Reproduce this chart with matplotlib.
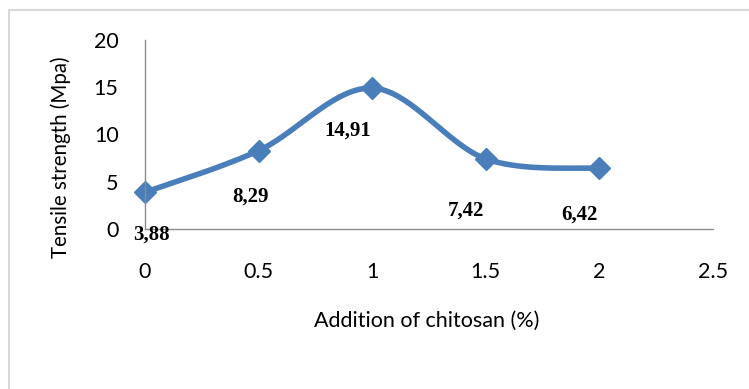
import numpy as np
import matplotlib
matplotlib.use("Agg")
import matplotlib.pyplot as plt
from matplotlib.patches import Rectangle

# data
chitosan = [0, 0.5, 1, 1.5, 2]
strength = [3.88, 8.29, 14.91, 7.42, 6.42]
value_labels = ["3,88", "8,29", "14,91", "7,42", "6,42"]
x_ticks = [0, 0.5, 1, 1.5, 2, 2.5]
x_tick_labels = ["0", "0.5", "1", "1.5", "2", "2.5"]
y_ticks = [0, 5, 10, 15, 20]

# label offsets in pixels (style)
label_offsets = [(6, -42), (-8, -46), (-24, -42), (-20, -52), (-20, -46)]


def smooth(xs, ys, n=40):
    pts = np.column_stack([xs, ys]).astype(float)
    out = []
    for i in range(len(pts) - 1):
        p0 = pts[i - 1] if i > 0 else pts[i]
        p1 = pts[i]
        p2 = pts[i + 1]
        p3 = pts[i + 2] if i + 2 < len(pts) else pts[i + 1]
        b1 = p1 + (p2 - p0) / 6.0
        b2 = p2 - (p3 - p1) / 6.0
        t = np.linspace(0, 1, n)[:, None]
        seg = ((1 - t) ** 3) * p1 + 3 * ((1 - t) ** 2) * t * b1 + 3 * (1 - t) * t ** 2 * b2 + t ** 3 * p2
        out.append(seg if i == 0 else seg[1:])
    seg = np.vstack(out)
    return seg[:, 0], seg[:, 1]


W, H = 749, 389
fig = plt.figure(figsize=(W / 100, H / 100), dpi=100)
fig.patch.set_facecolor("white")

# outer frame
fig.patches.append(Rectangle((9 / W, -0.1), 1.2, (H - 10) / H + 0.1, transform=fig.transFigure,
                             fill=False, edgecolor="#d9d9d9", linewidth=1.5))

ax = fig.add_axes([145 / W, (H - 229) / H, (713 - 145) / W, (229 - 40) / H])
ax.set_xlim(0, 2.5)
ax.set_ylim(0, 20)
ax.patch.set_alpha(0)

for s in ["top", "right"]:
    ax.spines[s].set_visible(False)
for s in ["left", "bottom"]:
    ax.spines[s].set_color("#8c8c8c")
    ax.spines[s].set_linewidth(1.0)

sx, sy = smooth(chitosan, strength)
ax.plot(sx, sy, color="#4a7ebb", linewidth=4.0, solid_capstyle="round", clip_on=False)
ax.plot(chitosan, strength, linestyle="none", marker="D", markersize=11,
        color="#4a7ebb", clip_on=False)

for xv, yv, lab, (dx, dy) in zip(chitosan, strength, value_labels, label_offsets):
    ax.annotate(lab, (xv, yv), xytext=(dx, dy), textcoords="offset pixels",
                ha="center", va="center", fontsize=15, fontweight="bold",
                family="Liberation Serif", color="black")

ax.set_xticks(x_ticks)
ax.set_xticklabels(x_tick_labels)
ax.set_yticks(y_ticks)
ax.tick_params(length=0, labelsize=15.5)
ax.tick_params(axis="x", pad=24)
ax.tick_params(axis="y", pad=19)
for lab in ax.get_xticklabels() + ax.get_yticklabels():
    lab.set_family("Lato")

fig.text(427 / W, 1 - 321 / H, "Addition of chitosan (%)", ha="center", va="center",
         fontsize=15.5, family="Lato")
fig.text(61 / W, 1 - 157 / H, "Tensile strength (Mpa)", ha="center", va="center",
         fontsize=14.8, family="Lato", rotation=90)

fig.savefig("out.png", dpi=100)
